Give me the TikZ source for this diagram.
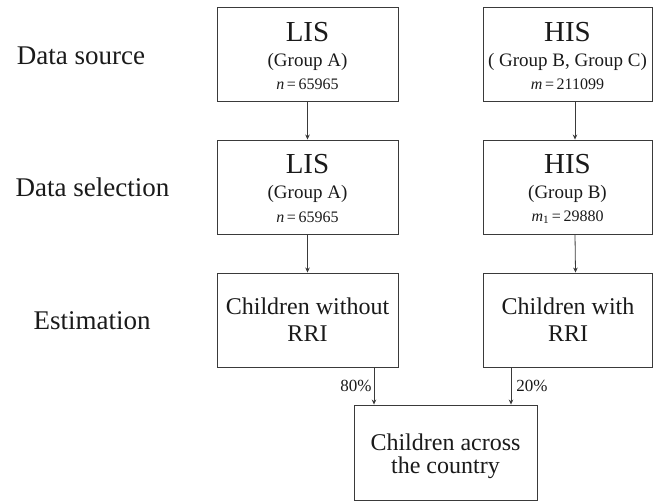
\documentclass[tikz,border=0pt]{standalone}
\usepackage{fontspec}
\setmainfont{Liberation Serif}
\usetikzlibrary{arrows.meta}

\definecolor{linegray}{HTML}{3A3A3A}
\definecolor{inkblack}{HTML}{1A1A1A}

\newcommand{\bigname}[1]{{\fontsize{29}{29}\selectfont\rule{0pt}{23pt}#1}}
\newcommand{\grp}[1]{{\fontsize{19}{21}\selectfont #1}}

\begin{document}
\begin{tikzpicture}[x=1pt,y=-1pt,
    box/.style={draw=linegray, line width=0.9pt, minimum width=181pt, minimum height=94pt,
        align=center, inner sep=0pt, text=inkblack, font=\fontsize{16}{21}\selectfont},
    estbox/.style={box, font=\fontsize{24}{27}\selectfont},
    stage/.style={anchor=base, text=inkblack, font=\fontsize{27}{30}\selectfont},
    pct/.style={text=inkblack, font=\fontsize{17}{19}\selectfont},
    arr/.style={draw=linegray, line width=0.8pt, -{Stealth[length=5pt,width=4.5pt]}}]
    \useasboundingbox (0,0) rectangle (653,502);

    % Stages
    \node[stage] (source) at (81,65) {Data source};
    \node[stage] (selection) at (92.5,197) {Data selection};
    \node[stage] (estimation) at (92,330) {Estimation};

    % Data source
    \node[box] (lisA) at (307.5,54) {\bigname{LIS}\\[4pt]\grp{(Group A)}\\[2pt]\textit{n}\,=\,65965};
    \node[box, minimum width=169pt] (hisA) at (567.5,54) {\bigname{HIS}\\[4pt]\grp{( Group B, Group C)}\\[2pt]\textit{m}\,=\,211099};

    % Data selection
    \node[box] (lisB) at (307.5,187) {\bigname{LIS}\\[4pt]\grp{(Group A)}\\[3pt]\textit{n}\,=\,65965};
    \node[box, minimum width=169pt] (hisB) at (567.5,187) {\bigname{HIS}\\[4pt]\grp{(Group B)}\\[2pt]\textit{m}\textsubscript{1}\,=\,29880};

    % Estimation
    \node[estbox] (noRRI) at (307.5,320) {Children without\\RRI};
    \node[estbox, minimum width=169pt] (withRRI) at (568,320) {Children with\\RRI};
    \node[box, minimum width=183pt, minimum height=95pt, font=\fontsize{24}{22}\selectfont] (country) at (445.5,452.5) {\rule{0pt}{24pt}Children across\\[1pt]the country};

    % Arrows
    \draw[arr] (lisA) -- (lisB);
    \draw[arr] (lisB) -- (noRRI);
    \draw[arr] ([xshift=7.5]hisA.south) -- ([xshift=7.5]hisB.north);
    \draw[arr] ([xshift=7.5]hisB.south) -- ([xshift=7.5]withRRI.north);
    \draw[arr] ([xshift=66.5]noRRI.south) -- ([xshift=66.5]noRRI.south |- country.north)
        node[pct, midway, left, inner sep=2pt] {80\%};
    \draw[arr] ([xshift=-57]withRRI.south) -- ([xshift=-57]withRRI.south |- country.north)
        node[pct, midway, right, inner sep=5pt] {20\%};
\end{tikzpicture}
\end{document}
